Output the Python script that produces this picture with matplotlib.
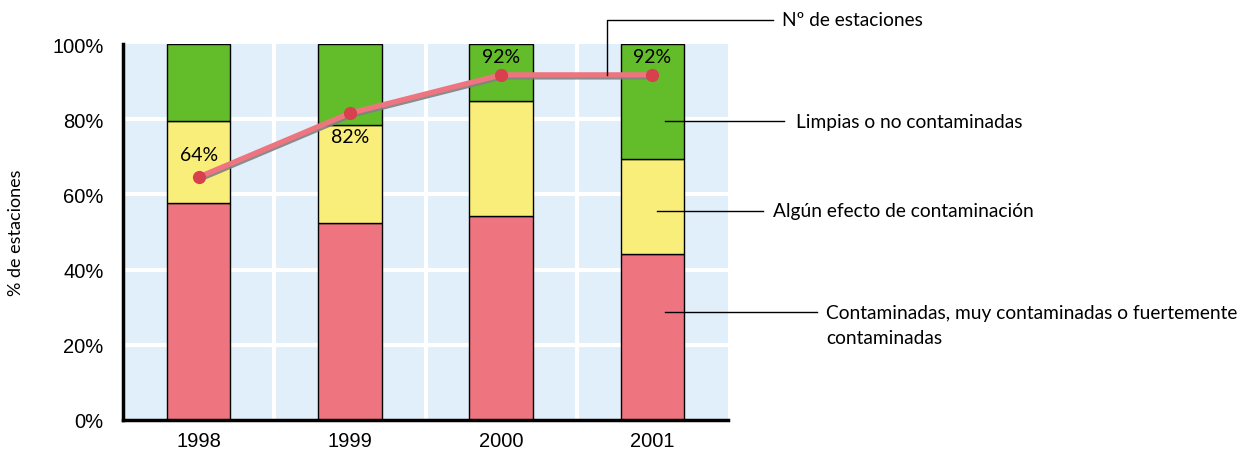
import matplotlib.pyplot as plt
import matplotlib.patheffects as pe
import numpy as np

years = ["1998", "1999", "2000", "2001"]
contaminadas = [57.7, 52.4, 54.3, 44.1]
algun_efecto = [21.8, 26.1, 30.5, 25.3]
limpias = [20.5, 21.5, 15.2, 30.6]
n_estaciones = [64.6, 81.6, 91.8, 91.8]
n_labels = ["64%", "82%", "92%", "92%"]

RED = "#EE7580"
YELLOW = "#FAEE7A"
GREEN = "#63BD2A"
BG = "#E1EFFA"

fig = plt.figure(figsize=(12.39, 4.52), dpi=100)
ax = fig.add_axes([0.0993, 0.0686, 0.4883, 0.8318])
ax.set_facecolor(BG)

x = np.arange(len(years))
w = 0.42
bottom2 = np.array(contaminadas)
bottom3 = bottom2 + np.array(algun_efecto)
ax.bar(x, contaminadas, w, color=RED, edgecolor="black", linewidth=1, zorder=3)
ax.bar(x, algun_efecto, w, bottom=bottom2, color=YELLOW, edgecolor="black", linewidth=1, zorder=3)
ax.bar(x, limpias, w, bottom=bottom3, color=GREEN, edgecolor="black", linewidth=1, zorder=3)

# white grid
for yv in [20, 40, 60, 80]:
    ax.axhline(yv, color="white", lw=3, zorder=1)
for xv in x[:-1] + 0.5:
    ax.axvline(xv, color="white", lw=3, zorder=1)

ax.plot(x, n_estaciones, color=RED, lw=3.8, zorder=4, solid_capstyle="round",
        path_effects=[pe.SimpleLineShadow(offset=(0.5, -1.5), shadow_color="#808080", alpha=0.9),
                      pe.Normal()])
ax.plot(x, n_estaciones, "o", color="#D8404E", ms=8.5, zorder=5)

label_off = [5.9, -6.1, 5.0, 5.0]
for xi, yi, lab, off in zip(x, n_estaciones, n_labels, label_off):
    ax.text(xi, yi + off, lab, ha="center", va="center",
            fontsize=14, family="Lato", zorder=6)

ax.set_xlim(-0.5, 3.5)
ax.set_ylim(0, 100)
ax.set_xticks(x)
ax.set_xticklabels(years)
ax.set_yticks([0, 20, 40, 60, 80, 100])
ax.set_yticklabels(["0%", "20%", "40%", "60%", "80%", "100%"])
ax.tick_params(length=0, labelsize=14.5)
for lab in ax.get_xticklabels() + ax.get_yticklabels():
    lab.set_family("Liberation Sans")
ax.tick_params(axis="y", pad=14)
ax.tick_params(axis="x", pad=8)
for s in ["top", "right"]:
    ax.spines[s].set_visible(False)
for s in ["left", "bottom"]:
    ax.spines[s].set_linewidth(2.5)
    ax.spines[s].set_zorder(7)
ax.set_ylabel("% de estaciones", fontsize=13, family="Lato", labelpad=20)

# leader lines and labels
ann_font = dict(fontsize=13.8, family="Lato", va="center", ha="left", clip_on=False)
ax.plot([3.08, 3.87], [79.5, 79.5], color="black", lw=1, clip_on=False, zorder=8)
ax.text(3.95, 79.5, "Limpias o no contaminadas", **ann_font)
ax.plot([3.03, 3.73], [55.6, 55.6], color="black", lw=1, clip_on=False, zorder=8)
ax.text(3.80, 55.6, "Algún efecto de contaminación", **ann_font)
ax.plot([3.08, 4.09], [28.7, 28.7], color="black", lw=1, clip_on=False, zorder=8)
ax.text(4.15, 28.7, "Contaminadas, muy contaminadas o fuertemente", **ann_font)
ax.text(4.15, 22.0, "contaminadas", **ann_font)
ax.plot([2.70, 2.70, 3.80], [n_estaciones[2], 106.4, 106.4], color="black", lw=1,
        clip_on=False, zorder=8)
ax.text(3.86, 106.4, "Nº de estaciones", **ann_font)

fig.savefig("out.png", dpi=100)
